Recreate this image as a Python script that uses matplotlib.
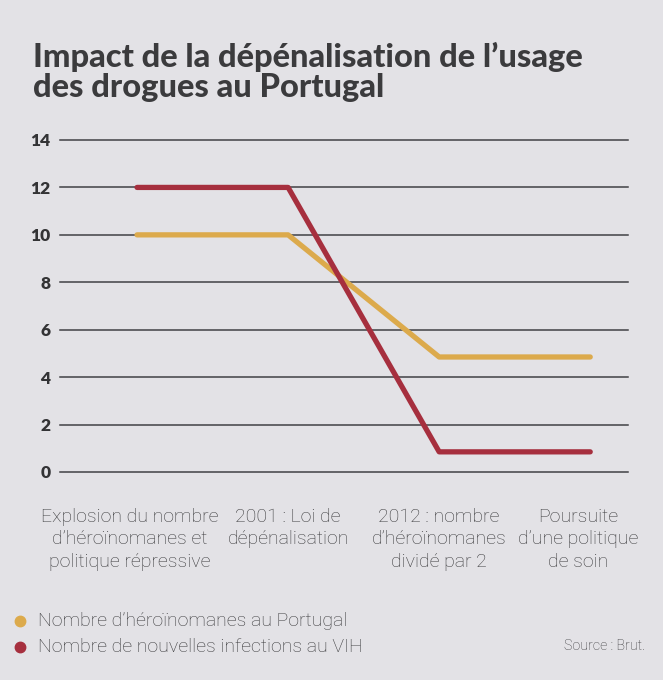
import matplotlib
matplotlib.use("Agg")
import matplotlib.pyplot as plt
import matplotlib.transforms as mtransforms
from matplotlib.lines import Line2D

# ---------- data ----------
stages = [
    "Explosion du nombre\nd\u2019h\u00e9ro\u00efnomanes et\npolitique r\u00e9pressive",
    "2001 : Loi de\nd\u00e9p\u00e9nalisation",
    "2012 : nombre\nd\u2019h\u00e9ro\u00efnomanes\ndivid\u00e9 par 2",
    "Poursuite\nd\u2019une politique\nde soin",
]
heroinomanes = [10, 10, 4.85, 4.85]
infections_vih = [12, 12, 0.85, 0.85]
yticks = [0, 2, 4, 6, 8, 10, 12, 14]

series_names = ["Nombre d\u2019h\u00e9ro\u00efnomanes au Portugal",
                "Nombre de nouvelles infections au VIH"]
colors = ["#dcaa4c", "#a62f3e"]

bg = "#e3e2e6"
txt = "#3a3a3c"

# ---------- figure ----------
fig = plt.figure(figsize=(6.63, 6.80), dpi=100, facecolor=bg)
ax = fig.add_axes([60 / 663, 1 - 472 / 680, 568 / 663, 332 / 680])
ax.set_facecolor(bg)

x = list(range(len(stages)))
ax.plot(x, heroinomanes, color=colors[0], lw=3.8, solid_capstyle="round", zorder=3)
ax.plot(x, infections_vih, color=colors[1], lw=3.8, solid_capstyle="round", zorder=4)

ax.set_ylim(0, 14)
ax.set_xlim(-0.51, 3.25)
ax.set_yticks(yticks)
ax.set_yticklabels([str(v) for v in yticks], fontsize=12.5, fontweight="heavy",
                   color="#333335", family=["Lato", "DejaVu Sans"])
ax.yaxis.grid(True, color="#414145", lw=1.1)
for gl in ax.get_ygridlines():
    gl.set_clip_on(False)
ax.set_axisbelow(True)
ax.tick_params(axis="y", length=0, pad=7)

ax.set_xticks(x)
ax.set_xticklabels(stages, fontsize=14, color=txt, linespacing=1.3,
                   family=["Roboto", "DejaVu Sans"], fontweight="light")
ax.tick_params(axis="x", length=0, pad=26)
# nudge outer labels like in the print
shifts = [-0.07, 0, 0, -0.12]
for lab, dx in zip(ax.get_xticklabels(), shifts):
    lab.set_transform(lab.get_transform() +
                      mtransforms.ScaledTranslation(dx, 0, fig.dpi_scale_trans))

for s in ax.spines.values():
    s.set_visible(False)

# title
fig.text(33 / 663, 1 - 42 / 680,
         "Impact de la d\u00e9p\u00e9nalisation de l\u2019usage\ndes drogues au Portugal",
         ha="left", va="top", fontsize=23.5, fontweight="black", color="#3b3b3d",
         family=["Lato", "DejaVu Sans"], linespacing=1.05)

# legend
for i, (name, c) in enumerate(zip(series_names, colors)):
    yy = 1 - (621 + 26 * i) / 680
    fig.add_artist(Line2D([20 / 663], [yy], marker="o", markersize=7.5, color=c,
                          transform=fig.transFigure, linestyle="none"))
    fig.text(38 / 663, yy, name, ha="left", va="center", fontsize=14, color=txt,
             family=["Roboto", "DejaVu Sans"], fontweight="light")

fig.text(645 / 663, 1 - 646 / 680, "Source : Brut.", ha="right", va="center",
         fontsize=10.3, color=txt, family=["Roboto", "DejaVu Sans"], fontweight="light")

fig.savefig("out.png", dpi=100, facecolor=bg)
